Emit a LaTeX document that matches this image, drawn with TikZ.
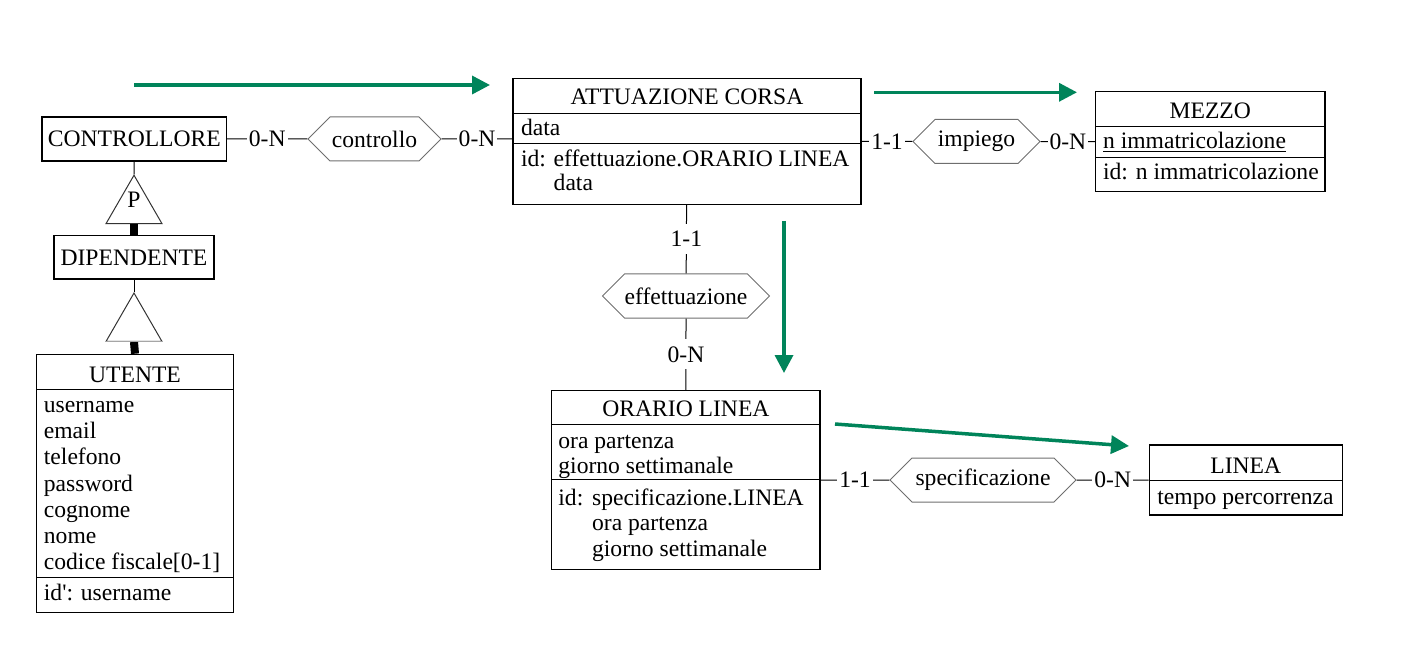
\documentclass[tikz,border=0pt]{standalone}
\usepackage{fontspec}
\setmainfont{Liberation Serif}
\usepackage{tikz}
\usetikzlibrary{shapes, arrows.meta, positioning}
\definecolor{verde}{RGB}{0,132,90}
\definecolor{grigio}{RGB}{110,110,110}

\begin{document}
\begin{tikzpicture}[x=0.5pt, y=-0.5pt, font=\fontsize{11.8}{13}\selectfont]

	\tikzstyle{entita}=[draw, rectangle, line width=0.6pt, inner sep=0pt]
	\tikzstyle{divisore}=[line width=0.6pt]
	\tikzstyle{relazione}=[draw=grigio, signal, signal to=west and east, line width=0.5pt, inner sep=0pt, minimum height=22pt]
	\tikzstyle{isa}=[draw=black!80, regular polygon, regular polygon sides=3, inner sep=0pt, minimum size=32.3pt, line width=0.5pt]
	\tikzstyle{card}=[fill=white, inner xsep=1pt, inner ysep=3.5pt]
	\tikzstyle{attr}=[anchor=base west, inner sep=0pt]
	\tikzstyle{titolo}=[anchor=base, inner sep=0pt]
	\tikzstyle{conn}=[line width=0.5pt]
	\tikzstyle{isaarc}=[line width=4pt]
	\tikzstyle{freccia}=[-{Triangle[length=9pt,width=9pt]}, line width=1.75pt, verde]

	\useasboundingbox (0,0) rectangle (1418,652);

	% entita
	\node[entita, minimum width=92.25pt, minimum height=22pt] (ctrl) at (134.3,139) {CONTROLLORE};
	\node[entita, minimum width=80pt, minimum height=21.75pt] (dip) at (134,257.3) {DIPENDENTE};
	\node[entita, minimum width=98.3pt, minimum height=129.2pt] (ut) at (135,483.5) {};
	\node[entita, minimum width=174pt, minimum height=63pt] (att) at (687,141.3) {};
	\node[entita, minimum width=114.65pt, minimum height=50pt] (mezzo) at (1210.3,141.7) {};
	\node[entita, minimum width=134.15pt, minimum height=89.3pt] (orario) at (685.9,480) {};
	\node[entita, minimum width=96.5pt, minimum height=35pt] (linea) at (1245.8,480) {};

	\draw[divisore] (ut.west |- 0,389.3) -- (ut.east |- 0,389.3);
	\draw[divisore] (ut.west |- 0,577.7) -- (ut.east |- 0,577.7);
	\draw[divisore] (att.west |- 0,113.3) -- (att.east |- 0,113.3);
	\draw[divisore] (att.west |- 0,143.3) -- (att.east |- 0,143.3);
	\draw[divisore] (mezzo.west |- 0,126.7) -- (mezzo.east |- 0,126.7);
	\draw[divisore] (mezzo.west |- 0,157.3) -- (mezzo.east |- 0,157.3);
	\draw[divisore] (orario.west |- 0,424.3) -- (orario.east |- 0,424.3);
	\draw[divisore] (orario.west |- 0,479.3) -- (orario.east |- 0,479.3);
	\draw[divisore] (linea.west |- 0,480.7) -- (linea.east |- 0,480.7);

	% attributi
	\node[titolo] (ut-t) at (135,382) {UTENTE};
	\foreach \t [count=\i] in {username, email, telefono, password, cognome, nome, {codice fiscale[0-1]}}
		\node[attr] (ut-\i) at (43.5,{386.3+26.2*\i}) {\t};
	\node[attr] (ut-id) at (43.5,600) {id\textquotesingle: username};

	\node[titolo] (att-t) at (687,105) {ATTUAZIONE CORSA};
	\node[attr] (att-a) at (520.7,136) {data};
	\node[attr] (att-id) at (520.7,166.5) {id:};
	\node[attr] (att-id1) at (553.3,166.5) {effettuazione.ORARIO LINEA};
	\node[attr] (att-id2) at (553.3,190.7) {data};

	\node[titolo] (mezzo-t) at (1210.3,119) {MEZZO};
	\node[attr] (mezzo-a) at (1102.7,148.3) {\underline{n immatricolazione}};
	\node[attr] (mezzo-id) at (1102.7,180) {id: n immatricolazione};

	\node[titolo] (orario-t) at (685.9,416) {ORARIO LINEA};
	\node[attr] (orario-a1) at (558,448.3) {ora partenza};
	\node[attr] (orario-a2) at (558,473.3) {giorno settimanale};
	\node[attr] (orario-id) at (558,505) {id:};
	\node[attr] (orario-id1) at (591.7,505) {specificazione.LINEA};
	\node[attr] (orario-id2) at (591.7,530.7) {ora partenza};
	\node[attr] (orario-id3) at (591.7,556) {giorno settimanale};

	\node[titolo] (linea-t) at (1245.8,473.3) {LINEA};
	\node[attr] (linea-a) at (1157,504) {tempo percorrenza};

	% relazioni
	\node[relazione, minimum width=66.5pt] (controllo) at (374.5,139) {controllo};
	\node[relazione, minimum width=63.5pt] (impiego) at (976.5,141.5) {impiego};
	\node[relazione, minimum width=83.5pt] (effettuazione) at (686,296) {effettuazione};
	\node[relazione, minimum width=93pt] (specificazione) at (983,480) {specificazione};

	\draw[conn] (ctrl) -- node[card] {0-N} (controllo);
	\draw[conn] (controllo) -- node[card] {0-N} (controllo -| att.west);
	\draw[conn] (att) -- node[card] {1-1} (impiego);
	\draw[conn] (impiego) -- node[card] {0-N} (mezzo);
	\draw[conn] (att) -- node[card] {1-1} (effettuazione);
	\draw[conn] (effettuazione) -- node[card] {0-N} (orario);
	\draw[conn] (orario) -- node[card] {1-1} (specificazione);
	\draw[conn] (specificazione) -- node[card] {0-N} (linea);

	% gerarchia
	\node[isa, label={[yshift=4pt]center:P}] (gen1) at (134,207.5) {};
	\node[isa] (gen2) at (134,325.3) {};
	\draw[conn] (ctrl) -- (gen1);
	\draw[isaarc] (gen1.south) -- (dip.north);
	\draw[conn] (dip) -- (gen2);
	\draw[isaarc] (gen2.south) -- (ut.north);
	\draw[conn, black!35] (gen2.corner 2) -- (gen2.corner 3);

	% frecce
	\coordinate (f1a) at (134,85);
	\coordinate (f1b) at (490,85);
	\coordinate (f2a) at (874,92.3);
	\coordinate (f2b) at (1077,92.3);
	\coordinate (f3a) at (784,221);
	\coordinate (f3b) at (784,373);
	\coordinate (f4a) at (835,424);
	\coordinate (f4b) at (1129,446);
	\draw[freccia] (f1a) -- (f1b);
	\draw[freccia] (f2a) -- (f2b);
	\draw[freccia] (f3a) -- (f3b);
	\draw[freccia] (f4a) -- (f4b);

\end{tikzpicture}
\end{document}
